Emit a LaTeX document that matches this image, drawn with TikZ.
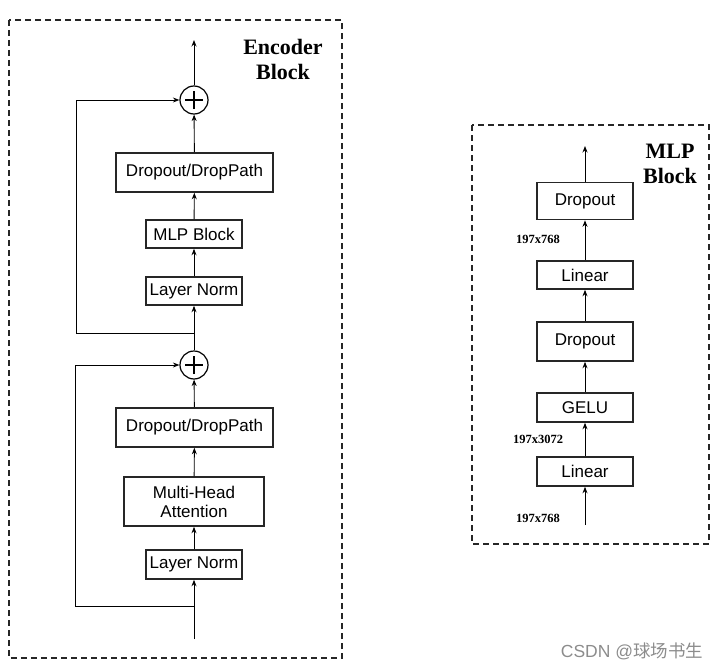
\documentclass[tikz,border=0pt]{standalone}
\usepackage{fontspec}
\setmainfont{Liberation Serif}
\setsansfont{Liberation Sans}
\newfontfamily\cjkfont{Noto Sans CJK SC}
\usetikzlibrary{arrows.meta}
\begin{document}
\begin{tikzpicture}[x=1pt,y=-1pt,
  blk/.style={draw=black!85,line width=1.6pt,fill=white,inner sep=0pt,
    font=\sffamily\fontsize{17}{20}\selectfont,align=center},
  sumnode/.style={draw=black,line width=1.2pt,circle,minimum size=28pt,inner sep=0pt,
    path picture={\draw[line width=1.1pt]
      ([xshift=-9pt]path picture bounding box.center) -- ([xshift=9pt]path picture bounding box.center)
      ([yshift=-9pt]path picture bounding box.center) -- ([yshift=9pt]path picture bounding box.center);}},
  conn/.style={line width=0.9pt,-{Stealth[length=6.5pt,width=5pt]}},
  plain/.style={line width=0.9pt},
  frame/.style={draw=black!85,line width=1.5pt,dash pattern=on 6pt off 4pt},
  ttl/.style={font=\bfseries\fontsize{22}{25}\selectfont,align=center},
  dim/.style={font=\bfseries\fontsize{12.5}{14}\selectfont},
]
\useasboundingbox (0,0) rectangle (723,669);

% frames
\draw[frame] (9,20) rectangle (342,658);
\draw[frame] (472,125) rectangle (709,544);

% titles
\node[ttl] (enct) at (283,59) {Encoder\\Block};
\node[ttl] (mlpt) at (670,164) {MLP\\Block};

% encoder nodes
\node[sumnode] (add1) at (194,100) {};
\node[blk,minimum width=157pt,minimum height=39pt] (dp1) at (194.5,172.5) {Dropout/DropPath};
\node[blk,minimum width=96pt,minimum height=28pt] (mlp) at (194,234) {MLP Block};
\node[blk,minimum width=96pt,minimum height=28pt] (ln1) at (194,291) {Layer Norm};
\node[sumnode] (add2) at (194,365) {};
\node[blk,minimum width=157pt,minimum height=39pt] (dp2) at (194.5,427.5) {Dropout/DropPath};
\node[blk,minimum width=140pt,minimum height=49pt] (mha) at (194,501.5) {Multi-Head\\[-1pt]Attention};
\node[blk,minimum width=96pt,minimum height=29pt] (ln2) at (194,564.5) {Layer Norm};

\coordinate (out1) at (194,40);
\coordinate (br1) at (194,333);
\coordinate (l1) at (76,333);
\coordinate (br2) at (194,606);
\coordinate (l2) at (75,606);
\coordinate (in1) at (194,639);

\draw[conn] (in1) -- (ln2);
\draw[plain] (br2) -- (l2);
\draw[conn] (l2) |- (add2);
\draw[conn] (ln2) -- (mha);
\draw[conn] (mha) -- (dp2);
\draw[conn] (dp2) -- (add2);
\draw[conn] (add2) -- (ln1);
\draw[plain] (br1) -- (l1);
\draw[conn] (l1) |- (add1);
\draw[conn] (ln1) -- (mlp);
\draw[conn] (mlp) -- (dp1);
\draw[conn] (dp1) -- (add1);
\draw[conn] (add1) -- (out1);

% MLP block nodes
\node[blk,minimum width=96pt,minimum height=37pt] (do1) at (585,201) {Dropout};
\node[blk,minimum width=96pt,minimum height=28pt] (lin1) at (585,275) {Linear};
\node[blk,minimum width=96pt,minimum height=39pt] (do2) at (585,341.5) {Dropout};
\node[blk,minimum width=96pt,minimum height=29pt] (gelu) at (585,407.5) {GELU};
\node[blk,minimum width=96pt,minimum height=29pt] (lin2) at (585,471.5) {Linear};
\coordinate (out3) at (585,146);
\coordinate (in3) at (585,525);

\draw[conn] (in3) -- (lin2);
\draw[conn] (lin2) -- (gelu);
\draw[conn] (gelu) -- (do2);
\draw[conn] (do2) -- (lin1);
\draw[conn] (lin1) -- (do1);
\draw[conn] (do1) -- (out3);

\node[dim] (d1) at (538,239) {197x768};
\node[dim] (d2) at (538,439) {197x3072};
\node[dim] (d3) at (538,518) {197x768};

% watermark
\node[text=black!45,font=\sffamily\fontsize{17.5}{19}\selectfont] (wm) at (632,651) {CSDN @{\cjkfont 球场书生}};
\end{tikzpicture}
\end{document}
